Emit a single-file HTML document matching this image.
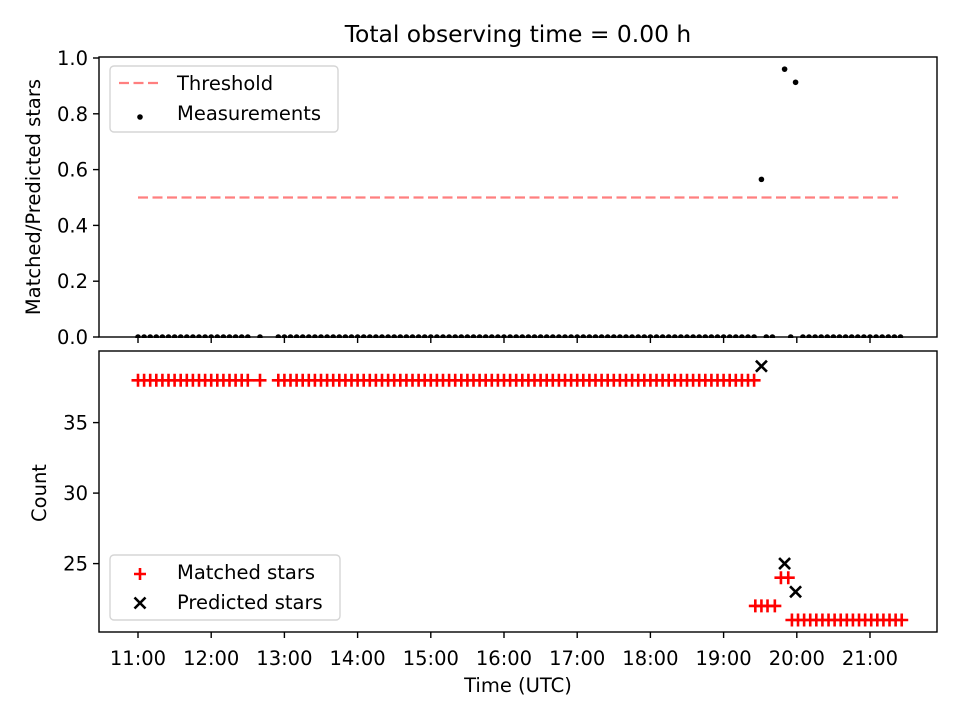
<!DOCTYPE html>
<html><head><meta charset="utf-8"><style>
body{margin:0;background:#fff}
svg{display:block;font-family:"DejaVu Sans","Liberation Sans",sans-serif}
</style></head><body>
<svg id="fig" width="960" height="720" viewBox="0 0 960 720"></svg>
<script>
// minutes after 11:00
const matchedTimes=[0,5,10,15,20,25,30,35,40,45,50,55,60,65,70,75,80,85,90,100,115,120,125,130,135,140,145,150,155,160,165,170,175,180,185,190,195,200,205,210,215,220,225,230,235,240,245,250,255,260,265,270,275,280,285,290,295,300,305,310,315,320,325,330,335,340,345,350,355,360,365,370,375,380,385,390,395,400,405,410,415,420,425,430,435,440,445,450,455,460,465,470,475,480,485,490,495,500,505,506,511,516,522,527,533,536,541,546,551,556,561,566,571,576,581,586,591,596,601,606,611,616,621,626];
const matchedCounts=[38,38,38,38,38,38,38,38,38,38,38,38,38,38,38,38,38,38,38,38,38,38,38,38,38,38,38,38,38,38,38,38,38,38,38,38,38,38,38,38,38,38,38,38,38,38,38,38,38,38,38,38,38,38,38,38,38,38,38,38,38,38,38,38,38,38,38,38,38,38,38,38,38,38,38,38,38,38,38,38,38,38,38,38,38,38,38,38,38,38,38,38,38,38,38,38,38,38,38,22,22,22,22,24,24,21,21,21,21,21,21,21,21,21,21,21,21,21,21,21,21,21,21,21];
const predictedTimes=[511,530,539];
const predictedCounts=[39,25,23];
const measTimes=[0,5,10,15,20,25,30,35,40,45,50,55,60,65,70,75,80,85,90,100,115,120,125,130,135,140,145,150,155,160,165,170,175,180,185,190,195,200,205,210,215,220,225,230,235,240,245,250,255,260,265,270,275,280,285,290,295,300,305,310,315,320,325,330,335,340,345,350,355,360,365,370,375,380,385,390,395,400,405,410,415,420,425,430,435,440,445,450,455,460,465,470,475,480,485,490,495,500,505,511,515,520,530,535,539,545,550,555,560,565,570,575,580,585,590,595,600,605,610,615,620,625];
const measRatios=[0,0,0,0,0,0,0,0,0,0,0,0,0,0,0,0,0,0,0,0,0,0,0,0,0,0,0,0,0,0,0,0,0,0,0,0,0,0,0,0,0,0,0,0,0,0,0,0,0,0,0,0,0,0,0,0,0,0,0,0,0,0,0,0,0,0,0,0,0,0,0,0,0,0,0,0,0,0,0,0,0,0,0,0,0,0,0,0,0,0,0,0,0,0,0,0,0,0,0,0.565,0,0,0.96,0,0.913,0,0,0,0,0,0,0,0,0,0,0,0,0,0,0,0,0];
const threshold=[0,623,0.5];
const xTickLabels=["11:00","12:00","13:00","14:00","15:00","16:00","17:00","18:00","19:00","20:00","21:00"];
const topYTicks=[0,0.2,0.4,0.6,0.8,1.0];
const botYTicks=[25,30,35];

const NS="http://www.w3.org/2000/svg";
const svg=document.getElementById('fig');
function el(t,a,p){const e=document.createElementNS(NS,t);for(const k in a)e.setAttribute(k,a[k]);(p||svg).appendChild(e);return e;}
const L=99,R=937,FS='19.5px';
const x=m=>138+(m/60)*73.2;
const yT=v=>337-v*279;
const yB=v=>620-(v-21)*14.1;

let t=el('text',{x:518,y:42,'font-size':'23.4px','text-anchor':'middle',fill:'#000'});t.textContent='Total observing time = 0.00 h';


// top panel
const gT=el('g',{});
const thr=el('line',{x1:x(threshold[0]),x2:x(threshold[1]),y1:yT(threshold[2]),y2:yT(threshold[2]),stroke:'#ff7f7f','stroke-width':2.2,'stroke-dasharray':'10,4.5'},gT);

measTimes.forEach((m,i)=>{const c=el('circle',{cx:x(m),cy:yT(measRatios[i]),r:2.8,fill:'#000'},gT);
});
el('rect',{x:L,y:338,width:R-L,height:12,fill:'#fff'},gT);
el('rect',{x:L,y:57,width:R-L,height:280,fill:'none',stroke:'#000','stroke-width':1.4},gT);
topYTicks.forEach(v=>{el('line',{x1:L-6,x2:L,y1:yT(v),y2:yT(v),stroke:'#000','stroke-width':1.4},gT);
const tx=el('text',{x:L-11,y:yT(v)+7,'font-size':FS,'text-anchor':'end'},gT);tx.textContent=v.toFixed(1);
});
xTickLabels.forEach((s,i)=>{el('line',{x1:x(i*60),x2:x(i*60),y1:337,y2:343,stroke:'#000','stroke-width':1.4},gT);});
let yl=el('text',{x:0,y:0,'font-size':FS,'text-anchor':'middle',transform:'translate(40,197) rotate(-90)'},gT);yl.textContent='Matched/Predicted stars';

const lg=el('g',{},gT);
el('rect',{x:110,y:66,width:228,height:66,rx:4,fill:'#fff',stroke:'#d5d5d5','stroke-width':1.4},lg);
el('line',{x1:119,x2:161,y1:83,y2:83,stroke:'#ff7f7f','stroke-width':2.2,'stroke-dasharray':'10,4.5'},lg);
el('circle',{cx:140,cy:117,r:2.8,fill:'#000'},lg);
let a=el('text',{x:177,y:90,'font-size':FS},lg);a.textContent='Threshold';
a=el('text',{x:177,y:120,'font-size':FS},lg);a.textContent='Measurements';

// bottom panel
const gB=el('g',{});
el('rect',{x:L,y:351,width:R-L,height:281,fill:'none',stroke:'#000','stroke-width':1.4},gB);
matchedTimes.forEach((m,i)=>{const px=x(m),py=yB(matchedCounts[i]);
const p=el('path',{d:`M${px-6.5},${py}H${px+6.5}M${px},${py-6.5}V${py+6.5}`,stroke:'#f00','stroke-width':2.6},gB);
});
predictedTimes.forEach((m,i)=>{const px=x(m),py=yB(predictedCounts[i]);
const p=el('path',{d:`M${px-5.5},${py-5.5}L${px+5.5},${py+5.5}M${px-5.5},${py+5.5}L${px+5.5},${py-5.5}`,stroke:'#000','stroke-width':2.6},gB);
});
botYTicks.forEach(v=>{el('line',{x1:L-6,x2:L,y1:yB(v),y2:yB(v),stroke:'#000','stroke-width':1.4},gB);
const tx=el('text',{x:L-11,y:yB(v)+7,'font-size':FS,'text-anchor':'end'},gB);tx.textContent=v;
});
xTickLabels.forEach((s,i)=>{el('line',{x1:x(i*60),x2:x(i*60),y1:632,y2:638,stroke:'#000','stroke-width':1.4},gB);
const tx=el('text',{x:x(i*60),y:665,'font-size':FS,'text-anchor':'middle'},gB);tx.textContent=s;
});
let xl=el('text',{x:518,y:692,'font-size':FS,'text-anchor':'middle'},gB);xl.textContent='Time (UTC)';

let yl2=el('text',{x:0,y:0,'font-size':FS,'text-anchor':'middle',transform:'translate(46,493) rotate(-90)'},gB);yl2.textContent='Count';

const lg2=el('g',{},gB);
el('rect',{x:110,y:555,width:230,height:65,rx:4,fill:'#fff',stroke:'#d5d5d5','stroke-width':1.4},lg2);
el('path',{d:'M134,574H146M140,568V580',stroke:'#f00','stroke-width':2.6},lg2);
el('path',{d:'M134.5,597.5L145.5,608.5M134.5,608.5L145.5,597.5',stroke:'#000','stroke-width':2.6},lg2);
a=el('text',{x:177,y:579,'font-size':FS},lg2);a.textContent='Matched stars';
a=el('text',{x:177,y:609,'font-size':FS},lg2);a.textContent='Predicted stars';
</script>
</body></html>
